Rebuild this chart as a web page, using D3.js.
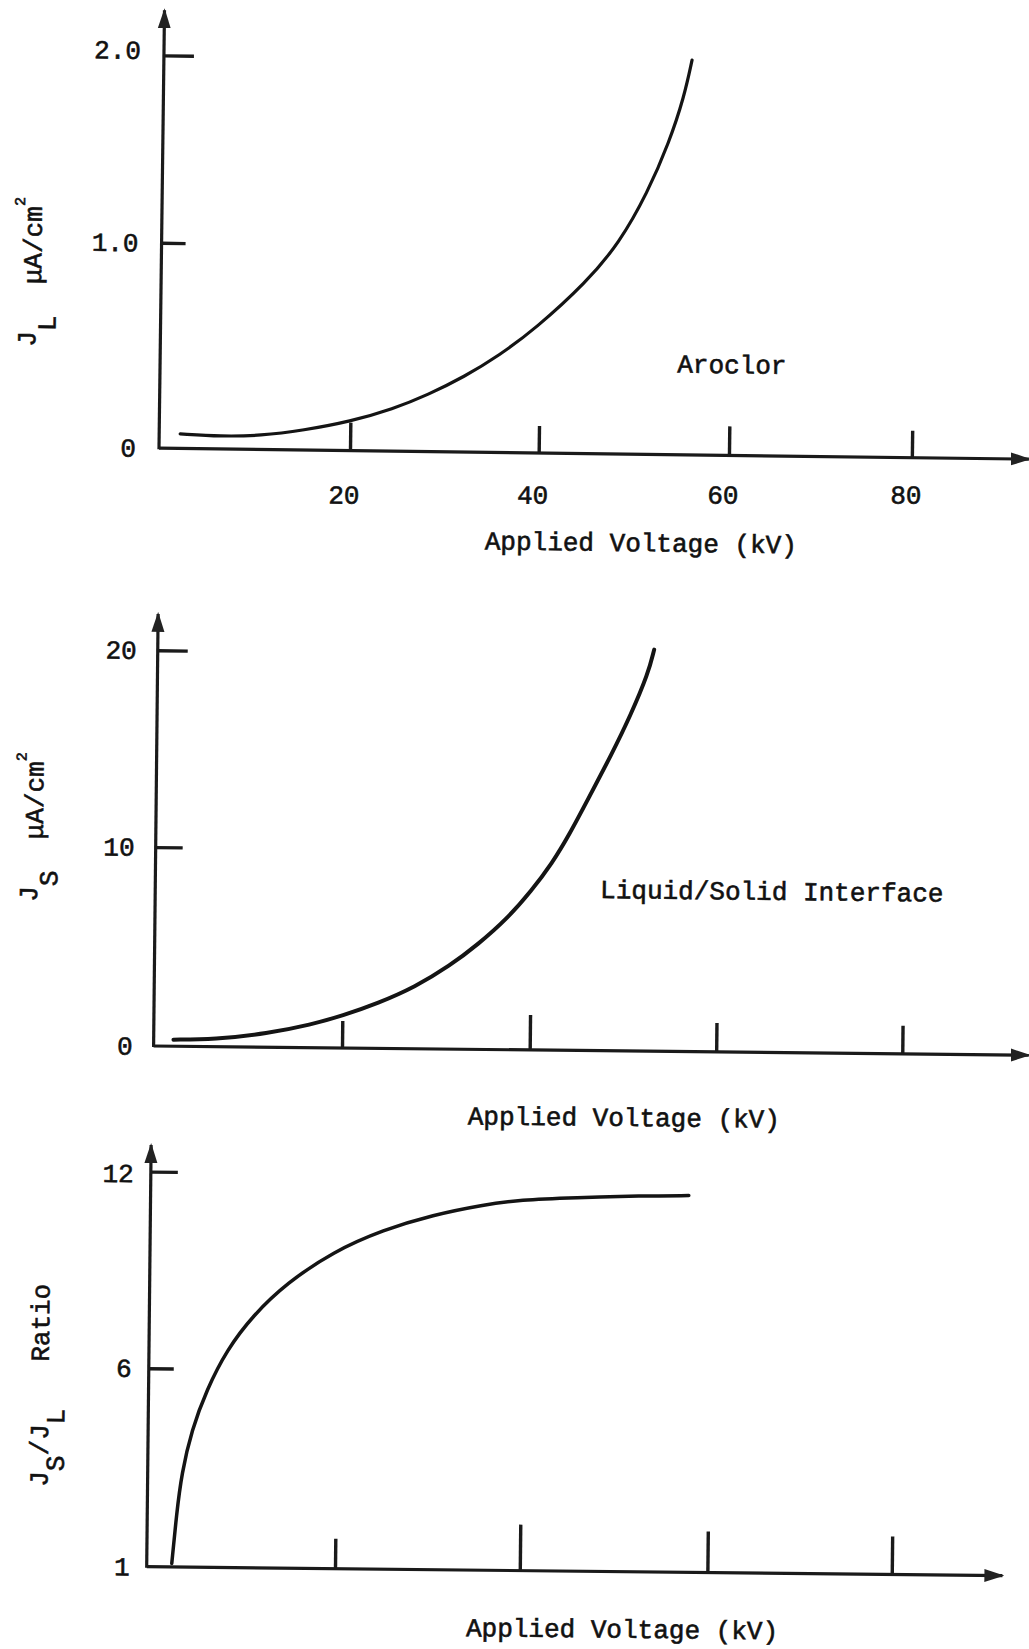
<!DOCTYPE html>
<html>
<head>
<meta charset="utf-8">
<script src="https://cdn.jsdelivr.net/npm/d3@7"></script>
<style>
  body { margin: 0; background: #fff; }
  svg text {
    font-family: "Liberation Mono", "Courier New", monospace;
    font-size: 26px;
    fill: #111;
    stroke: #111;
    stroke-width: 0.6px;
    white-space: pre;
  }
</style>
</head>
<body>
<div id="chart"></div>
<script>
// values
var voltageAroclor = [2.2, 6.5, 10.6, 15.1, 20.0, 24.5, 28.2, 32.0, 35.7, 39.5, 44.8, 48.2, 51.1, 53.3, 54.8, 55.6];
var currentAroclor = [0.071, 0.061, 0.067, 0.096, 0.142, 0.205, 0.277, 0.366, 0.473, 0.605, 0.834, 1.03, 1.30, 1.57, 1.81, 2.01];

var voltageInterface = [2.1, 6.4, 12.1, 16.7, 20.0, 23.8, 27.7, 31.4, 34.4, 37.4, 40.0, 42.2, 44.0, 45.9, 48.5, 50.4, 52.3, 52.9];
var currentInterface = [0.33, 0.36, 0.69, 1.16, 1.62, 2.27, 3.10, 4.19, 5.29, 6.56, 8.0, 9.4, 10.85, 12.6, 15.0, 16.9, 19.1, 20.3];

var voltageRatio = [2.66, 3.12, 3.61, 4.63, 6.17, 8.25, 11.05, 14.55, 19.47, 24.85, 30.2, 35.6, 39.6, 45.5, 52.6, 57.6];
var ratioValues = [1.09, 2.35, 3.36, 4.46, 5.47, 6.58, 7.66, 8.64, 9.62, 10.30, 10.77, 11.09, 11.26, 11.34, 11.42, 11.44];

var xTicks = [20, 40, 60, 80];
var xTickLabels = ["20", "40", "60", "80"];
var xTitle = "Applied Voltage (kV)";

var yTicksAroclor = [0, 1, 2];
var yTickLabelsAroclor = ["0", "1.0", "2.0"];
var yTicksInterface = [0, 10, 20];
var yTickLabelsInterface = ["0", "10", "20"];
var yTicksRatio = [1, 6, 12];
var yTickLabelsRatio = ["1", "6", "12"];

// layout of the three hand drawn panels (the scan is turned a little)
var panels = [
  {
    xs: voltageAroclor, ys: currentAroclor,
    origin: [159, 448.2], angle: 0.72,
    xRange: [0, 191, 379.7, 570, 752.9], xMax: 92.8,
    yDomain: [0, 1, 2], yRange: [0, -205.4, -392.9], yMax: 2.24,
    yTicks: yTicksAroclor, yLabels: yTickLabelsAroclor, yTickLen: [0, 24, 30], yPad: 23, yLabelShift: [0, 0, -5],
    xLabels: xTickLabels, xTickLen: [28, 27, 29, 27], xPad: 37,
    curveWidth: 3.2,
    title: [483, 88],
    note: { text: "Aroclor", x: 60.2, y: 0.444 },
    ylab: { pos: [-120, -100], parts: [["J", -5], ["L", 20], ["  μA/cm", -15], ["2", -17, 15]] }
  },
  {
    xs: voltageInterface, ys: currentInterface,
    origin: [153.6, 1046], angle: 0.6,
    xRange: [0, 188.4, 376.1, 562.6, 748.7], xMax: 93.6,
    yDomain: [0, 10, 20], yRange: [0, -198.9, -395.7], yMax: 21.85,
    yTicks: yTicksInterface, yLabels: yTickLabelsInterface, yTickLen: [0, 27, 30], yPad: 21, yLabelShift: [0, 0, 0],
    xLabels: null, xTickLen: [27, 35, 29, 28],
    curveWidth: 4,
    title: [471, 66],
    note: { text: "Liquid/Solid Interface", x: 65.8, y: 8.13 },
    ylab: { pos: [-113, -143], parts: [["J", -5], ["S", 20], ["  μA/cm", -15], ["2", -17, 15]] }
  },
  {
    xs: voltageRatio, ys: ratioValues,
    origin: [146.7, 1566.7], angle: 0.6,
    xRange: [0, 188.3, 373.1, 560.7, 745.1], xMax: 92,
    yDomain: [1, 6, 12], yRange: [0, -198.4, -395.1], yMax: 12.81,
    yTicks: yTicksRatio, yLabels: yTickLabelsRatio, yTickLen: [0, 25, 27], yPad: 17, yLabelShift: [0, 0, 2],
    xLabels: null, xTickLen: [30, 46, 41, 38],
    curveWidth: 3.5,
    title: [476, 57],
    note: null,
    ylab: { pos: [-100, -79], parts: [["J", 0], ["S", 16], ["/J", -16], ["L", 16], ["   Ratio", -16]] }
  }
];

var svg = d3.select("#chart").append("svg")
    .attr("width", 1029)
    .attr("height", 1649);

svg.append("rect").attr("width", 1029).attr("height", 1649).attr("fill", "#fff");

svg.append("defs").append("marker")
    .attr("id", "arrow")
    .attr("viewBox", "0 -8 20 16")
    .attr("refX", 18)
    .attr("refY", 0)
    .attr("markerUnits", "userSpaceOnUse")
    .attr("markerWidth", 20)
    .attr("markerHeight", 16)
    .attr("orient", "auto")
  .append("path")
    .attr("d", "M0,-6.5L20,0L0,6.5Z")
    .attr("fill", "#222");

panels.forEach(function(p) {
  var g = svg.append("g")
      .attr("transform", "translate(" + p.origin[0] + "," + p.origin[1] + ") rotate(" + p.angle + ")");
  var tilt = Math.sin(p.angle * Math.PI / 180);

  var x = d3.scaleLinear().domain([0, 20, 40, 60, 80]).range(p.xRange);
  var y = d3.scaleLinear().domain(p.yDomain).range(p.yRange);

  // x ticks point up into the plot, labels below
  var gx = g.append("g")
      .call(d3.axisBottom(x)
        .tickValues(xTicks)
        .tickSizeOuter(0)
        .tickSizeInner(-28)
        .tickPadding(p.xPad || 30)
        .tickFormat(function(d, i) { return p.xLabels ? p.xLabels[i] : ""; }));
  gx.select(".domain").remove();
  gx.selectAll(".tick line")
      .attr("y2", function(d, i) { return -p.xTickLen[i]; })
      .attr("stroke", "#1a1a1a")
      .attr("stroke-width", 3.4);
  // typed labels sit level on the page, not along the tilted axis
  gx.selectAll(".tick text")
      .attr("dx", -6)
      .attr("y", function(d) { return (p.xPad || 30) - x(d) * tilt; });

  // y ticks point right, labels left
  var gy = g.append("g")
      .call(d3.axisLeft(y)
        .tickValues(p.yTicks)
        .tickSizeOuter(0)
        .tickSizeInner(-26)
        .tickPadding(p.yPad)
        .tickFormat(function(d, i) { return p.yLabels[i]; }));
  gy.select(".domain").remove();
  gy.selectAll(".tick line")
      .attr("x2", function(d, i) { return p.yTickLen[i]; })
      .attr("stroke", "#1a1a1a")
      .attr("stroke-width", 3.4);
  gy.selectAll(".tick text")
      .attr("y", function(d, i) { return p.yLabelShift[i]; });

  // axis lines with arrow heads
  g.append("line")
      .attr("x1", x(0)).attr("y1", y(p.yDomain[0]))
      .attr("x2", x(p.xMax)).attr("y2", y(p.yDomain[0]))
      .attr("stroke", "#1a1a1a").attr("stroke-width", 3.2)
      .attr("marker-end", "url(#arrow)");
  g.append("line")
      .attr("x1", x(0)).attr("y1", y(p.yDomain[0]) + 1)
      .attr("x2", x(0)).attr("y2", y(p.yMax))
      .attr("stroke", "#1a1a1a").attr("stroke-width", 3.2)
      .attr("marker-end", "url(#arrow)");

  var line = d3.line()
      .x(function(d) { return x(d[0]); })
      .y(function(d) { return y(d[1]); })
      .curve(d3.curveBasis);

  g.append("path")
      .datum(d3.zip(p.xs, p.ys))
      .attr("fill", "none")
      .attr("stroke", "#141414")
      .attr("stroke-width", p.curveWidth)
      .attr("stroke-linecap", "round")
      .attr("d", line);

  if (p.note) {
    g.append("text")
        .attr("x", x(p.note.x))
        .attr("y", y(p.note.y))
        .attr("dy", "0.35em")
        .attr("text-anchor", "middle")
        .text(p.note.text);
  }

  g.append("text")
      .attr("x", p.title[0])
      .attr("y", p.title[1])
      .attr("dy", "0.35em")
      .attr("text-anchor", "middle")
      .text(xTitle);

  var lab = g.append("text")
      .attr("transform", "translate(" + p.ylab.pos[0] + "," + p.ylab.pos[1] + ") rotate(-90)");
  p.ylab.parts.forEach(function(part) {
    lab.append("tspan")
        .attr("dy", part[1])
        .style("font-size", part[2] ? part[2] + "px" : null)
        .text(part[0]);
  });
});
</script>
</body>
</html>
